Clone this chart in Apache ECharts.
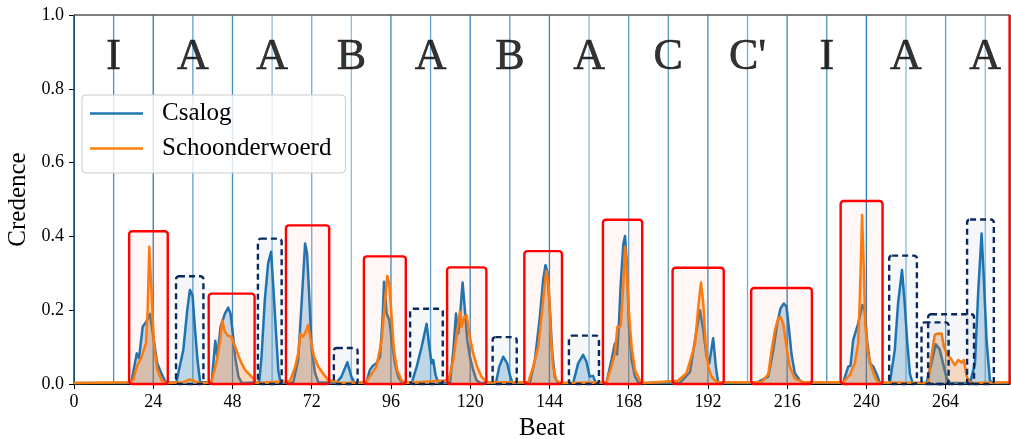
<!DOCTYPE html>
<html><head><meta charset="utf-8">
<script src="https://cdn.jsdelivr.net/npm/echarts@6/dist/echarts.min.js"></script>
<style>html,body{margin:0;padding:0;background:#fff}#c{width:1011px;height:439px}</style>
</head><body><div id="c"></div>
<script>
const sectionLabels = ['I','A','A','B','A','B','A','C',"C'",'I','A','A'];
const sectionCenters = [12,36,60,84,108,132,156,180,204,228,252,276];
const labelY = 0.885;
const boundaryBeats = [0,12,24,36,48,60,72,84,96,108,120,132,144,156,168,180,192,204,216,228,240,252,264,276];
const boundaryAlpha = [1,0.8,0.95,0.7,0.85,0.5,0.6,0.5,0.85,0.7,0.9,0.75,0.9,0.5,0.7,0.75,0.85,0.6,0.9,0.8,0.95,0.5,0.7,0.5];
const endBeat = 283.5;
const xTicks = [0,24,48,72,96,120,144,168,192,216,240,264];
const yTicks = [0,0.2,0.4,0.6,0.8,1.0];

const csalog = [
[0,0.003],[16,0.003],
[17.5,0.01],[19,0.083],[19.7,0.07],[20.8,0.155],[22,0.17],[23,0.19],[24,0.13],[25.2,0.056],[26.5,0.028],[27.8,0.004],
[31,0.005],[33.1,0.092],[34.3,0.2],[35.1,0.255],[35.9,0.24],[36.6,0.155],[37.4,0.065],[38.2,0.005],
[41.7,0.005],[42.8,0.117],[43.4,0.074],[44.4,0.155],[45.7,0.191],[46.7,0.207],[47.4,0.191],[48.1,0.137],[48.8,0.074],[49.8,0.02],[50.8,0.003],
[56.1,0.005],[56.8,0.074],[57.8,0.228],[58.8,0.327],[59.7,0.358],[60.3,0.273],[61.2,0.137],[61.9,0.035],[62.6,0.003],
[66.4,0.005],[67.9,0.065],[69,0.228],[70,0.381],[70.6,0.354],[71.3,0.228],[72,0.092],[73,0.03],[74,0.005],
[79.5,0.003],[81,0.02],[82.8,0.059],[84,0.02],[85,0.003],
[88.6,0.005],[89.6,0.038],[90.6,0.05],[91.6,0.056],[92.7,0.074],[93.5,0.182],[93.9,0.277],[94.7,0.191],[95.5,0.173],[96.2,0.119],[97.2,0.056],[98.2,0.02],[99.2,0.005],
[102.3,0.003],[103.8,0.047],[105.3,0.101],[106.8,0.163],[107.5,0.11],[108.3,0.056],[108.8,0.065],[109.5,0.025],[110.3,0.003],
[113.9,0.003],[114.9,0.092],[115.7,0.191],[116.4,0.137],[116.9,0.182],[117.7,0.275],[118.4,0.2],[119.1,0.119],[119.9,0.074],[120.9,0.038],[121.9,0.01],[123,0.003],
[127.8,0.003],[128.8,0.047],[130,0.074],[131.2,0.056],[132,0.025],[132.8,0.003],
[138.1,0.005],[139.6,0.065],[141.1,0.182],[142.1,0.282],[142.8,0.322],[143.4,0.304],[144.1,0.21],[144.8,0.092],[145.6,0.02],[146.5,0.003],
[151.2,0.003],[152.7,0.056],[154.2,0.079],[155.2,0.061],[156.2,0.02],[157.2,0.022],[158,0.003],
[161.3,0.005],[162.8,0.065],[163.8,0.11],[164.5,0.08],[165,0.155],[165.6,0.273],[166.4,0.381],[166.9,0.401],[167.5,0.318],[168.1,0.155],[168.9,0.065],[169.9,0.02],[171,0.003],
[183.5,0.003],[186.6,0.033],[188.4,0.137],[189.6,0.2],[190.6,0.146],[191.6,0.074],[192.4,0.056],[193.6,0.124],[194.4,0.047],[195.1,0.003],
[206.7,0.003],[210.3,0.02],[211.8,0.092],[213,0.164],[214,0.205],[215,0.218],[215.8,0.21],[216.6,0.146],[217.3,0.083],[218.3,0.03],[219.8,0.01],[221,0.003],
[233,0.005],[234.5,0.047],[235.2,0.05],[236,0.119],[237.5,0.164],[238.8,0.214],[239.5,0.2],[240.2,0.119],[241.1,0.056],[242.1,0.047],[243.1,0.027],[244.1,0.003],
[247.1,0.003],[248.6,0.092],[249.6,0.219],[250.8,0.309],[251.6,0.22],[252.4,0.11],[253.2,0.027],[254,0.003],
[258.2,0.003],[259.7,0.056],[261,0.108],[262.2,0.094],[263.2,0.056],[264.2,0.02],[265,0.003],
[271.4,0.003],[272.9,0.056],[273.9,0.255],[274.9,0.408],[275.5,0.3],[276.4,0.119],[277.4,0.01],[278.2,0.003],[283.5,0.003]
];

const schoonderwoerd = [
[0,0.003],[17,0.005],[18,0.012],[19,0.047],[20.5,0.074],[21.8,0.11],[22.3,0.2],[22.8,0.372],[23.5,0.246],[24.2,0.11],[25.2,0.04],[26.5,0.01],[28,0.003],
[33,0.005],[35,0.012],[36.5,0.008],[38,0.003],[40,0.003],
[41.8,0.01],[43.3,0.065],[44.3,0.119],[44.9,0.173],[45.7,0.142],[46.7,0.13],[47.7,0.128],[48.8,0.101],[50.3,0.065],[51.8,0.038],[53.3,0.024],[54.3,0.015],[55.3,0.003],
[65.4,0.008],[67,0.047],[67.9,0.083],[68.6,0.137],[69.4,0.128],[70.2,0.142],[70.9,0.16],[71.7,0.119],[72.7,0.074],[74,0.047],[75.5,0.028],[77,0.01],[79,0.008],[80.5,0.003],
[88.5,0.005],[89.6,0.02],[91.6,0.047],[93.2,0.119],[94.2,0.228],[94.9,0.293],[95.5,0.27],[96.2,0.182],[96.9,0.092],[97.9,0.038],[99.2,0.01],[100.2,0.003],
[113.4,0.01],[114.9,0.065],[116.1,0.146],[116.9,0.196],[117.4,0.155],[118.2,0.182],[118.9,0.187],[119.7,0.137],[120.9,0.083],[122.1,0.047],[123.4,0.02],[125,0.005],
[137.6,0.005],[139.1,0.047],[140.6,0.101],[141.6,0.182],[142.6,0.273],[143.1,0.307],[143.8,0.264],[144.4,0.137],[145.1,0.047],[146.1,0.01],[147,0.003],
[161.3,0.005],[162.8,0.047],[163.8,0.083],[164.6,0.155],[165.6,0.157],[166.4,0.273],[166.9,0.372],[167.4,0.318],[168.1,0.191],[168.9,0.1],[169.9,0.038],[171.4,0.01],[172.5,0.003],
[182.9,0.009],[185.5,0.029],[187,0.074],[188.1,0.11],[189.1,0.21],[189.9,0.275],[190.6,0.219],[191.3,0.11],[192.1,0.047],[193.1,0.02],[194.6,0.005],
[208.2,0.005],[210.3,0.027],[211.3,0.092],[212.3,0.146],[213.3,0.178],[214,0.182],[214.8,0.164],[215.8,0.101],[216.8,0.047],[218.3,0.015],[220.8,0.005],
[233,0.005],[235,0.025],[236.5,0.056],[237.5,0.11],[238,0.228],[238.5,0.39],[238.7,0.458],[239.2,0.318],[239.7,0.155],[240.5,0.083],[241.5,0.047],[242.5,0.02],[243.5,0.005],
[258.7,0.003],[259.7,0.074],[260.7,0.133],[261.7,0.137],[262.8,0.136],[263.5,0.101],[264.5,0.079],[265.5,0.07],[266.8,0.051],[267.8,0.065],[268.8,0.058],[269.5,0.065],[270.4,0.02],[271.5,0.003],[283.5,0.005]
];

// [startBeat, endBeat, height]
const redBoxes = [
[16.7,28.4,0.414],[40.8,54.7,0.245],[64.2,77.3,0.430],[87.8,100.5,0.346],[113,124.9,0.316],
[136.4,147.8,0.360],[160.2,172.1,0.445],[181.3,196.8,0.315],[205.1,223.5,0.26],[232.2,244.9,0.496]
];
const dashedBoxes = [
[30.9,39.2,0.292],[55.7,62.9,0.394],[78.7,85.9,0.0976],[101.8,111.7,0.204],[126.8,134.1,0.127],
[149.9,159,0.131],[246.9,255.3,0.348],[256.7,264.9,0.167],[258.7,272.6,0.189],[270.5,278.6,0.446]
];

const FONT = 'Liberation Serif';
const chart = echarts.init(document.getElementById('c'), null, {renderer:'canvas'});

function boxRender(stroke, fill, dash){
  return function(params, api){
    const p0 = api.coord([api.value(0), api.value(2)]);
    const p1 = api.coord([api.value(1), 0]);
    return {type:'rect', shape:{x:p0[0], y:p0[1], width:p1[0]-p0[0], height:p1[1]-p0[1], r:3},
      style:{fill:fill, stroke:stroke, lineWidth:2.4, lineDash:dash}};
  };
}

chart.setOption({
  animation:false,
  backgroundColor:'#fff',
  grid:{left:74, right:1, top:15, bottom:55, containLabel:false, outerBoundsMode:'none',
    show:true, borderColor:'#000', borderWidth:1, backgroundColor:'transparent'},
  legend:{
    left:82, top:95, orient:'vertical', icon:'rect', itemWidth:53, itemHeight:2.5, itemGap:10,
    padding:[6,14,12,8],
    backgroundColor:'rgba(255,255,255,0.8)', borderColor:'#cccccc', borderWidth:1, borderRadius:4,
    textStyle:{fontFamily:FONT, fontSize:25, color:'#000', lineHeight:25, padding:[0,0,0,14]},
    data:['Csalog','Schoonderwoerd']
  },
  xAxis:{
    type:'value', min:0, max:endBeat, interval:24,
    name:'Beat', nameLocation:'middle', nameGap:30,
    nameTextStyle:{fontFamily:FONT, fontSize:25, color:'#000'},
    axisLine:{show:true, lineStyle:{color:'#000', width:1}},
    axisTick:{show:true, inside:false, length:5, lineStyle:{color:'#000'}},
    axisLabel:{fontFamily:FONT, fontSize:18, color:'#000', margin:9, showMaxLabel:false,
      formatter:v => xTicks.indexOf(v) >= 0 ? String(v) : ''},
    splitLine:{show:false}
  },
  yAxis:{
    type:'value', min:0, max:1, interval:0.2,
    name:'Credence', nameLocation:'middle', nameGap:34, nameRotate:90,
    nameTextStyle:{fontFamily:FONT, fontSize:25, color:'#000'},
    axisLine:{show:true, lineStyle:{color:'#000', width:1}},
    axisTick:{show:true, inside:false, length:5, lineStyle:{color:'#000'}},
    axisLabel:{fontFamily:FONT, fontSize:18, color:'#000', margin:10, formatter:v => v.toFixed(1)},
    splitLine:{show:false}
  },
  series:[
    {type:'custom', name:'boundaries', z:1, silent:true,
     data: boundaryBeats.map((b,i)=>[b, boundaryAlpha[i]]),
     encode:{x:0},
     renderItem:function(params, api){
       const a = api.coord([api.value(0), 0]);
       const b = api.coord([api.value(0), 1]);
       return {type:'line', shape:{x1:a[0], y1:a[1], x2:b[0], y2:b[1]},
         style:{stroke:'#1f77b4', lineWidth:1.3, opacity:api.value(1)}};
     }},
    {type:'custom', name:'end', z:6, silent:true, data:[[endBeat]], encode:{x:0},
     clip:false,
     renderItem:function(params, api){
       const a = api.coord([api.value(0), 0]);
       const b = api.coord([api.value(0), 1]);
       return {type:'line', shape:{x1:a[0]-0.5, y1:a[1], x2:b[0]-0.5, y2:b[1]},
         style:{stroke:'#ff0000', lineWidth:2.2}};
     }},
    {type:'line', name:'Csalog', z:3, data:csalog, showSymbol:false, symbol:'none',
     color:'#1f77b4', lineStyle:{width:2.5, color:'#1f77b4', join:'round'},
     areaStyle:{color:'#1f77b4', opacity:0.25, origin:'start'}},
    {type:'line', name:'Schoonderwoerd', z:4, data:schoonderwoerd, showSymbol:false, symbol:'none',
     color:'#ff7f0e', lineStyle:{width:2.5, color:'#ff7f0e', join:'round'},
     areaStyle:{color:'#ff7f0e', opacity:0.25, origin:'start'}},
    {type:'custom', name:'red', z:5, silent:true, data:redBoxes, clip:false,
     encode:{x:[0,1], y:2},
     renderItem:boxRender('#ff0000','rgba(255,0,0,0.035)', null)},
    {type:'custom', name:'dashed', z:5, silent:true, data:dashedBoxes, clip:false,
     encode:{x:[0,1], y:2},
     renderItem:boxRender('#0b2a5e','rgba(11,42,94,0.04)', [6,4])},
    {type:'scatter', name:'sections', z:7, silent:true, symbolSize:0,
     data: sectionCenters.map((c,i)=>[c, labelY, sectionLabels[i]]),
     label:{show:true, position:'inside', formatter:p=>p.value[2],
       fontFamily:FONT, fontSize:44, color:'#000', textBorderColor:'#000', textBorderWidth:0.6,
       align:'center', verticalAlign:'middle'}}
  ]
});
</script></body></html>
